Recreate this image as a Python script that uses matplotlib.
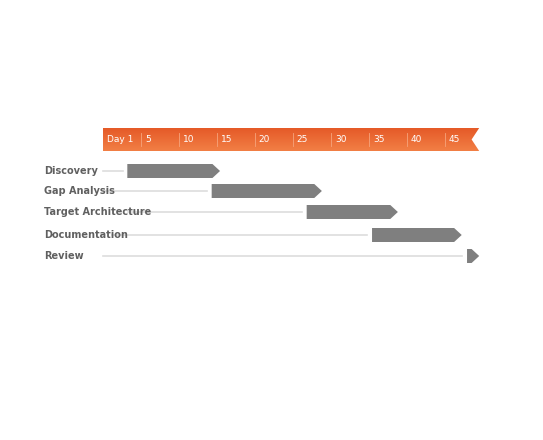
import numpy as np
import matplotlib.pyplot as plt
from matplotlib.patches import Polygon

tasks = ['Discovery', 'Gap Analysis', 'Target Architecture', 'Documentation', 'Review']
starts = [3.2, 14.3, 26.8, 35.4, 47.9]
ends = [15.4, 28.8, 38.8, 47.2, 49.5]
line_start = [0.0, 0.0, 3.3, 1.2, 0.0]  # where the guide line begins, in days
tick_days = [0, 5, 10, 15, 20, 25, 30, 35, 40, 45]
tick_labels = ['Day 1', '5', '10', '15', '20', '25', '30', '35', '40', '45']
row_y = [171, 191, 212, 235, 256]

PX = 7.6  # pixels per day
fig = plt.figure(figsize=(5.43, 4.40), dpi=100)
ax = fig.add_axes([0, 0, 1, 1])
ax.set_xlim(-103 / PX, (543 - 103) / PX)
ax.set_ylim(440, 0)
ax.axis('off')

# header band with gradient and notched right end
hx0, hx1, hy0, hy1 = 0, 49.5, 128, 151
grad = np.linspace(0, 1, 50).reshape(-1, 1)
img = ax.imshow(grad, extent=[hx0, hx1, hy1, hy0], aspect='auto',
                cmap=plt.matplotlib.colors.LinearSegmentedColormap.from_list(
                    'o', ['#e55a28', '#f27f45']), zorder=1)
notch = 1.0
clip = Polygon([(hx0, hy0), (hx1, hy0), (hx1 - notch, (hy0 + hy1) / 2),
                (hx1, hy1), (hx0, hy1)], closed=True, transform=ax.transData,
               fc='none', ec='none')
ax.add_patch(clip)
img.set_clip_path(clip)
for d, lab in zip(tick_days, tick_labels):
    if d > 0:
        ax.plot([d, d], [hy0 + 5, hy1 - 5], color='#f6a47c', lw=0.6, zorder=2)
    ax.text(d + 0.5, (hy0 + hy1) / 2, lab, color='white', fontsize=6.5,
            va='center', ha='left', zorder=3)

# rows
bh = 7
tip = 1.0
for name, s, e, ls, y in zip(tasks, starts, ends, line_start, row_y):
    ax.text(-7.8, y, name, fontsize=7, fontweight='bold', color='#606060',
            va='center', ha='left')
    ax.plot([ls, s - 0.6], [y, y], color='#dddddd', lw=1.2, zorder=1)
    poly = [(s, y - bh), (e - tip, y - bh), (e, y), (e - tip, y + bh), (s, y + bh)]
    ax.add_patch(Polygon(poly, closed=True, fc='#7f7f7f', ec='none', zorder=2))

fig.savefig('out.png', dpi=100)
